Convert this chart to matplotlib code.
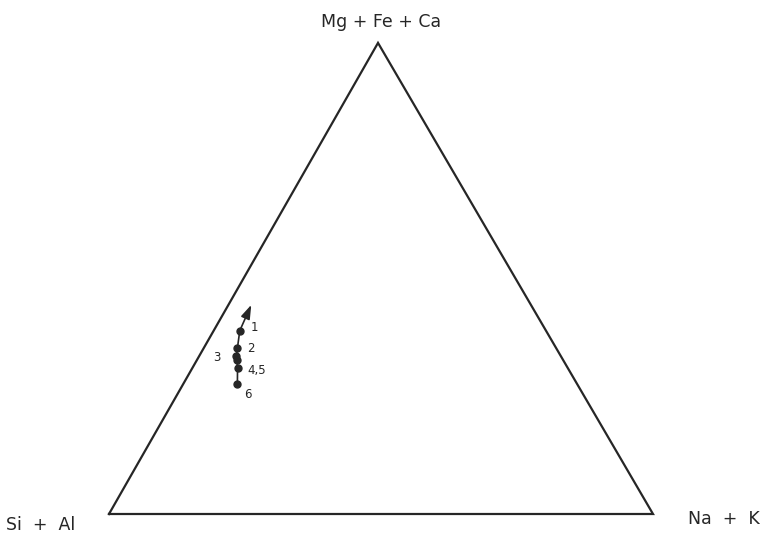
import numpy as np
import matplotlib
matplotlib.use("Agg")
import matplotlib.pyplot as plt

# Ternary composition of the samples (fractions of Si+Al, Na+K, Mg+Fe+Ca)
sample_labels = ["1", "2", "3", "", "4,5", "6"]
na_k = [0.048, 0.062, 0.068, 0.074, 0.083, 0.100]
mg_fe_ca = [0.389, 0.352, 0.336, 0.326, 0.310, 0.275]
si_al = [1 - a - b for a, b in zip(na_k, mg_fe_ca)]

# Direction of the trend (arrow tip)
trend_tip_na_k = 0.042
trend_tip_mg_fe_ca = 0.444

apex_labels = ["Si  +  Al", "Na  +  K", "Mg + Fe + Ca"]

H = 0.866
SHIFT = 0.4945


def to_xy(b, c):
    b = np.asarray(b, dtype=float)
    c = np.asarray(c, dtype=float)
    return b + c * SHIFT, c * H


fig = plt.figure(figsize=(7.6, 5.34), dpi=100)
ax = fig.add_axes([0, 0, 1, 1])
ax.set_xlim(-109 / 544, (760 - 109) / 544)
ax.set_ylim(-20 / 544, (534 - 20) / 544)
ax.set_aspect("equal")
ax.axis("off")

ink = "#262626"

# Triangle frame
tx, ty = to_xy([0, 1, 0, 0], [0, 0, 1, 0])
ax.plot(tx, ty, color=ink, lw=1.6, solid_joinstyle="miter")

# Sample trend
px, py = to_xy(na_k, mg_fe_ca)
ax.plot(px, py, color=ink, lw=1.2)
ax.plot(px, py, "o", color=ink, ms=5)

ax_tip, ay_tip = to_xy(trend_tip_na_k, trend_tip_mg_fe_ca)
ax.annotate("", xy=(ax_tip, ay_tip), xytext=(px[0], py[0]),
            arrowprops=dict(arrowstyle="-|>,head_length=0.6,head_width=0.2",
                            color=ink, lw=1.2,
                            mutation_scale=14, shrinkA=0, shrinkB=0))

# Sample numbers
offsets = [(8, 2), (7, 0), (-17, -1), (0, 0), (7, -2), (5, -7)]
for lab, x, y, off in zip(sample_labels, px, py, offsets):
    if lab:
        ax.annotate(lab, (x, y), xytext=off, textcoords="offset points",
                    fontsize=8.5, color=ink, va="center", ha="left")

# Apex labels
fs = 12.5
ax.text(-0.19, -0.02, apex_labels[0], fontsize=fs, color=ink, ha="left", va="center")
ax.text(1.065, -0.01, apex_labels[1], fontsize=fs, color=ink, ha="left", va="center")
ax.text(0.5, H + 0.038, apex_labels[2], fontsize=fs, color=ink, ha="center", va="center")

fig.savefig("out.png", dpi=100)
